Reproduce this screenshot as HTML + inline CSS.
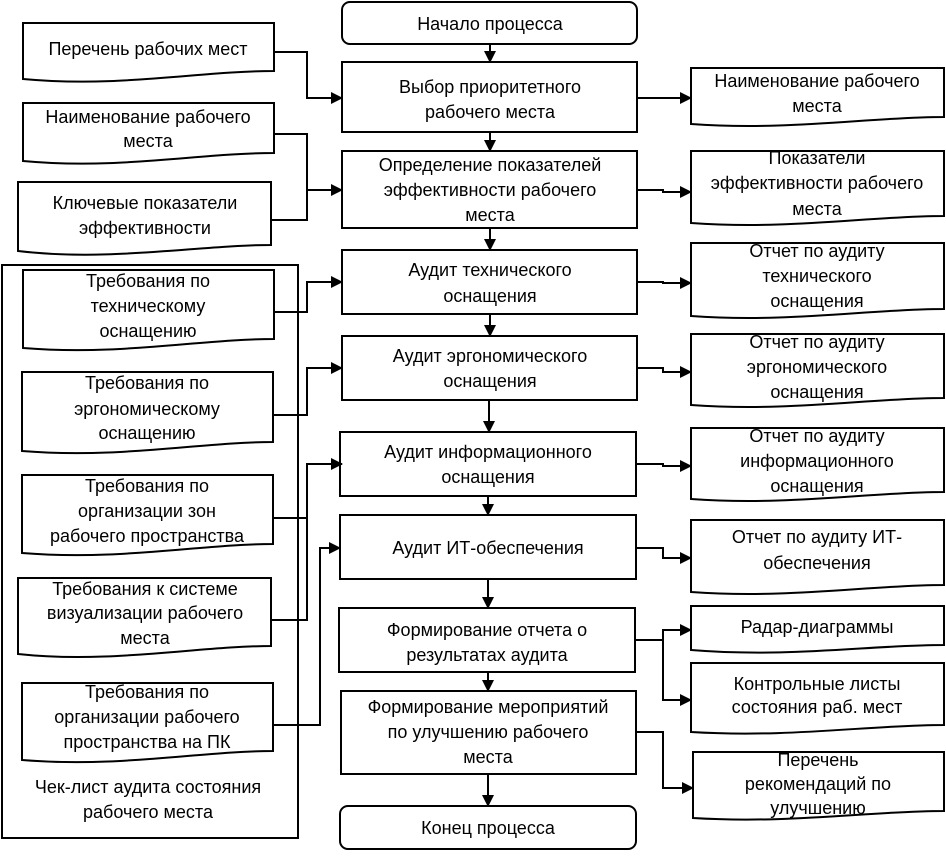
<!DOCTYPE html>
<html><head><meta charset="utf-8"><style>
body{margin:0;background:#fff}
text{font-family:"Liberation Sans",sans-serif;font-size:18px;fill:#000;text-anchor:middle}
</style></head><body>
<svg width="946" height="854" viewBox="0 0 946 854" xmlns="http://www.w3.org/2000/svg">
<defs><marker id="a" markerWidth="12" markerHeight="12" refX="11" refY="6" orient="auto" markerUnits="userSpaceOnUse"><path d="M0,0 L12,6 L0,12 z" fill="#000"/></marker></defs>
<g fill="none" stroke="#000" stroke-width="2">
<rect x="342" y="2" width="295" height="42" rx="8"/>
<rect x="342" y="62" width="295" height="70"/>
<rect x="342" y="151" width="295" height="77"/>
<rect x="342" y="250" width="295" height="64"/>
<rect x="342" y="336" width="295" height="64"/>
<rect x="340" y="432" width="296" height="64"/>
<rect x="340" y="515" width="296" height="64"/>
<rect x="339" y="608" width="296" height="64"/>
<rect x="341" y="691" width="295" height="83"/>
<rect x="340" y="806" width="296" height="43" rx="8"/>
<rect x="2" y="265" width="296" height="573"/>
<path d="M490,44V62" marker-end="url(#a)"/>
<path d="M490,132V151" marker-end="url(#a)"/>
<path d="M490,228V250" marker-end="url(#a)"/>
<path d="M490,314V336" marker-end="url(#a)"/>
<path d="M489,400V432" marker-end="url(#a)"/>
<path d="M488,496V515" marker-end="url(#a)"/>
<path d="M488,579V608" marker-end="url(#a)"/>
<path d="M488,672V691" marker-end="url(#a)"/>
<path d="M488,774V806" marker-end="url(#a)"/>
<path d="M637,98H691" marker-end="url(#a)"/>
<path d="M637,190H663V192H691" marker-end="url(#a)"/>
<path d="M637,282H663V283H691" marker-end="url(#a)"/>
<path d="M637,368H663V372H691" marker-end="url(#a)"/>
<path d="M637,464H663V466H691" marker-end="url(#a)"/>
<path d="M636,548H663V558H691" marker-end="url(#a)"/>
<path d="M635,640H663V630H691" marker-end="url(#a)"/>
<path d="M663,640V700H691" marker-end="url(#a)"/>
<path d="M636,732H663V788H693" marker-end="url(#a)"/>
<path d="M274,52H307V98H342" marker-end="url(#a)"/>
<path d="M274,134H307V190H342" marker-end="url(#a)"/>
<path d="M271,220H307V190"/>
<path d="M274,312H307V282H342" marker-end="url(#a)"/>
<path d="M273,415H307V368H342" marker-end="url(#a)"/>
<path d="M273,518H307V464H342" marker-end="url(#a)"/>
<path d="M271,620H307V518"/>
<path d="M273,725H320V548H340" marker-end="url(#a)"/>
<path d="M23,23H274V71C200,71 120,88 23,79Z"/>
<path d="M23,103H274V153C200,153 120,170 23,161Z"/>
<path d="M18,182H271V245C200,245 110,262 18,251Z"/>
<path d="M23,270H274V339C200,339 120,356 23,348Z"/>
<path d="M22,372H273V442C200,442 120,459 22,451Z"/>
<path d="M22,475H273V544C200,544 120,561 22,553Z"/>
<path d="M18,578H271V646C200,646 110,664 18,654Z"/>
<path d="M22,683H273V751C200,751 120,768 22,760Z"/>
<path d="M691,68H944V117C870,117 790,131 691,124Z"/>
<path d="M691,151H944V216C870,216 790,230 691,223Z"/>
<path d="M691,243H944V309C870,309 790,323 691,316Z"/>
<path d="M691,334H944V398C870,398 790,412 691,405Z"/>
<path d="M691,428H944V492C870,492 790,506 691,499Z"/>
<path d="M691,520H944V585C870,585 790,599 691,592Z"/>
<path d="M691,606H944V645C870,645 790,658 691,650Z"/>
<path d="M691,663H944V725C870,725 790,738 691,732Z"/>
<path d="M693,752H944V811C870,811 790,824 693,818Z"/>
</g>
<g>
<text x="490" y="30">Начало процесса</text>
<text x="490" y="93">Выбор приоритетного</text><text x="490" y="118">рабочего места</text>
<text x="490" y="171">Определение показателей</text><text x="490" y="196">эффективности рабочего</text><text x="490" y="221">места</text>
<text x="490" y="276">Аудит технического</text><text x="490" y="302">оснащения</text>
<text x="490" y="362">Аудит эргономического</text><text x="490" y="387">оснащения</text>
<text x="488" y="458">Аудит информационного</text><text x="488" y="483">оснащения</text>
<text x="488" y="554">Аудит ИТ-обеспечения</text>
<text x="487" y="636">Формирование отчета о</text><text x="487" y="661">результатах аудита</text>
<text x="488" y="713">Формирование мероприятий</text><text x="488" y="738">по улучшению рабочего</text><text x="488" y="763">места</text>
<text x="488" y="834">Конец процесса</text>
<text x="817" y="87">Наименование рабочего</text><text x="817" y="112">места</text>
<text x="817" y="164">Показатели</text><text x="817" y="189">эффективности рабочего</text><text x="817" y="215">места</text>
<text x="817" y="257">Отчет по аудиту</text><text x="817" y="282">технического</text><text x="817" y="307">оснащения</text>
<text x="817" y="348">Отчет по аудиту</text><text x="817" y="373">эргономического</text><text x="817" y="398">оснащения</text>
<text x="817" y="442">Отчет по аудиту</text><text x="817" y="467">информационного</text><text x="817" y="492">оснащения</text>
<text x="817" y="543">Отчет по аудиту ИТ-</text><text x="817" y="569">обеспечения</text>
<text x="817" y="633">Радар-диаграммы</text>
<text x="817" y="690">Контрольные листы</text><text x="817" y="713">состояния раб. мест</text>
<text x="818" y="766">Перечень</text><text x="818" y="790">рекомендаций по</text><text x="818" y="814">улучшению</text>
<text x="148" y="55">Перечень рабочих мест</text>
<text x="148" y="123">Наименование рабочего</text><text x="148" y="147">места</text>
<text x="145" y="209">Ключевые показатели</text><text x="145" y="234">эффективности</text>
<text x="148" y="287">Требования по</text><text x="148" y="312">техническому</text><text x="148" y="337">оснащению</text>
<text x="147" y="389">Требования по</text><text x="147" y="415">эргономическому</text><text x="147" y="439">оснащению</text>
<text x="147" y="492">Требования по</text><text x="147" y="517">организации зон</text><text x="147" y="542">рабочего пространства</text>
<text x="145" y="595">Требования к системе</text><text x="145" y="619">визуализации рабочего</text><text x="145" y="644">места</text>
<text x="147" y="698">Требования по</text><text x="147" y="723">организации рабочего</text><text x="147" y="748">пространства на ПК</text>
<text x="148" y="793">Чек-лист аудита состояния</text><text x="148" y="818">рабочего места</text>
</g>
</svg>
</body></html>
